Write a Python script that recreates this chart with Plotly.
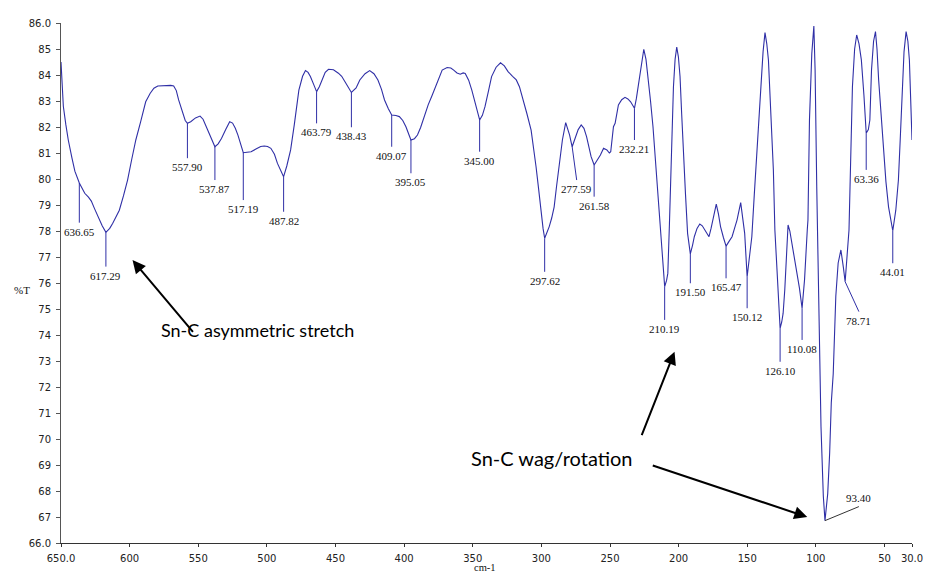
import numpy as np
import plotly.graph_objects as go

# ---------------- data ----------------
wavenumber = [
    650.0, 649.0, 648.3, 646.5, 644.7, 642.0, 639.9, 636.65, 634.5, 632.7, 630.0, 627.9, 625.5, 623.1,
    620.0, 617.29, 614.5, 612.3, 609.8, 607.5, 604.5, 601.5, 598.5, 595.5, 592.0, 588.3, 585.0, 582.3,
    579.5, 575.0, 570.0, 567.9, 566.0, 564.3, 561.5, 559.5, 557.9, 555.5, 552.0, 548.7, 546.5, 544.5,
    542.7, 540.0, 537.87, 535.5, 533.1, 530.0, 527.1, 525.0, 523.0, 521.1, 519.0, 517.19, 514.5, 511.5,
    508.0, 504.5, 501.9, 499.5, 497.1, 494.5, 492.3, 490.0, 487.82, 485.5, 482.7, 480.0, 476.7, 474.0,
    471.9, 470.0, 468.3, 466.0, 463.79, 461.8, 459.9, 457.5, 455.1, 451.5, 447.9, 445.5, 443.1, 440.5,
    438.43, 435.0, 432.3, 428.5, 425.1, 422.0, 419.1, 416.5, 414.3, 411.5, 409.07, 406.0, 403.5, 401.0,
    398.7, 396.5, 395.05, 392.5, 390.3, 388.0, 385.5, 382.5, 379.5, 376.0, 372.3, 368.7, 366.0, 363.9,
    361.5, 359.1, 357.0, 355.5, 353.0, 350.7, 348.0, 345.0, 343.0, 341.1, 338.5, 336.3, 333.0, 329.8,
    327.0, 324.3, 321.0, 318.3, 316.0, 313.5, 310.5, 307.5, 305.5, 303.9, 302.0, 300.3, 298.8, 297.62,
    295.8, 294.3, 292.5, 290.7, 289.0, 287.1, 284.7, 282.3, 279.5, 277.59, 275.5, 273.2, 271.0, 269.0,
    267.1, 265.5, 263.8, 261.58, 259.5, 257.0, 254.7, 252.3, 250.5, 249.5, 247.5, 246.3, 243.9, 241.5,
    239.1, 237.0, 235.0, 233.5, 232.21, 230.8, 229.5, 227.5, 225.4, 223.8, 222.3, 220.5, 218.7, 216.9,
    215.1, 213.5, 212.0, 210.19, 208.8, 207.9, 206.7, 205.5, 204.6, 203.8, 202.6, 201.4, 200.2, 199.0,
    197.8, 196.6, 195.0, 193.5, 191.5, 189.9, 188.6, 186.6, 184.6, 182.8, 181.0, 177.9, 176.4, 175.0,
    172.6, 171.0, 169.5, 167.4, 165.47, 163.3, 161.1, 159.3, 157.5, 154.8, 153.4, 151.9, 150.12, 148.2,
    146.7, 144.9, 143.1, 141.5, 140.0, 138.5, 137.1, 135.8, 134.6, 132.8, 131.0, 129.9, 127.9, 127.2,
    126.1, 124.9, 123.9, 122.7, 121.5, 120.3, 119.0, 117.9, 116.0, 114.3, 112.0, 110.08, 108.3, 106.3,
    105.8, 104.7, 103.0, 101.5, 100.6, 99.4, 98.2, 97.5, 96.8, 96.3, 95.5, 94.6, 93.4, 91.4,
    90.0, 88.8, 87.4, 85.5, 83.8, 81.8, 80.0, 78.71, 75.9, 74.5, 73.4, 71.8, 70.3, 68.6,
    66.9, 65.0, 63.36, 61.8, 60.7, 59.5, 58.0, 56.6, 55.5, 54.3, 52.5, 50.7, 49.0, 47.1,
    45.3, 44.01, 41.8, 39.9, 38.6, 37.4, 35.8, 34.3, 33.0, 31.9, 30.8, 30.0,
]
transmittance = [
    84.5, 83.5, 82.8, 82.1, 81.5, 80.8, 80.3, 79.85, 79.6, 79.45, 79.3, 79.15, 78.85, 78.55,
    78.2, 77.95, 78.1, 78.3, 78.55, 78.8, 79.35, 79.96, 80.75, 81.5, 82.2, 82.97, 83.3, 83.49,
    83.58, 83.6, 83.6, 83.58, 83.4, 83.04, 82.6, 82.25, 82.14, 82.2, 82.35, 82.42, 82.3, 82.05,
    81.82, 81.5, 81.24, 81.35, 81.56, 81.9, 82.2, 82.15, 81.95, 81.69, 81.35, 81.01, 81.03, 81.05,
    81.15, 81.25, 81.27, 81.25, 81.18, 80.95, 80.6, 80.3, 80.09, 80.5, 81.12, 82.1, 83.42, 83.95,
    84.17, 84.1, 83.94, 83.65, 83.36, 83.55, 83.81, 84.1, 84.22, 84.2, 84.07, 83.95, 83.74, 83.5,
    83.33, 83.5, 83.81, 84.05, 84.17, 84.05, 83.81, 83.45, 83.04, 82.7, 82.46, 82.44, 82.4, 82.25,
    82.01, 81.7, 81.5, 81.55, 81.69, 81.98, 82.4, 82.85, 83.23, 83.7, 84.19, 84.29, 84.27, 84.19,
    84.08, 84.03, 84.08, 84.06, 83.8, 83.42, 82.85, 82.27, 82.45, 82.78, 83.4, 83.94, 84.3, 84.47,
    84.35, 84.13, 83.95, 83.81, 83.55, 83.1, 82.5, 81.88, 81.2, 80.47, 79.6, 78.68, 78.1, 77.72,
    77.95, 78.17, 78.5, 78.93, 79.7, 80.6, 81.5, 82.17, 81.7, 81.24, 81.55, 81.9, 82.08, 81.95,
    81.63, 81.2, 80.86, 80.54, 80.7, 80.92, 81.18, 81.12, 81.0, 81.05, 82.01, 82.14, 82.85, 83.05,
    83.14, 83.08, 82.97, 82.85, 82.72, 83.1, 83.55, 84.4, 84.99, 84.6, 83.94, 83.0, 82.01, 80.7,
    79.45, 78.1, 76.88, 75.86, 76.1, 76.37, 78.3, 80.35, 82.0, 83.55, 84.6, 85.07, 84.7, 83.94,
    82.5, 80.99, 79.4, 77.91, 77.12, 77.45, 77.78, 78.1, 78.27, 78.2, 78.04, 77.78, 78.1, 78.42,
    79.03, 78.65, 78.17, 77.75, 77.42, 77.6, 77.78, 78.1, 78.42, 79.09, 78.6, 77.91, 76.24, 77.0,
    77.78, 79.4, 80.99, 82.5, 83.81, 84.9, 85.63, 85.2, 84.58, 82.5, 80.35, 78.04, 76.12, 75.3,
    74.26, 74.5, 74.83, 75.73, 76.9, 78.23, 78.0, 77.65, 77.1, 76.5, 75.8, 75.03, 76.12, 78.04,
    78.42, 82.27, 84.83, 85.88, 84.19, 79.7, 75.86, 73.5, 72.5, 70.47, 69.2, 67.8, 66.86, 67.9,
    69.45, 71.4, 72.5, 75.5, 76.77, 77.27, 76.6, 76.05, 78.04, 81.5, 83.55, 85.0, 85.54, 85.2,
    84.58, 83.2, 81.76, 81.9, 82.27, 84.19, 85.3, 85.67, 85.0, 83.81, 82.5, 80.99, 79.9, 78.93,
    78.3, 78.01, 78.8, 79.96, 81.5, 82.91, 84.9, 85.67, 85.3, 84.58, 83.0, 81.5,
]

peak_labels = ["636.65", "617.29", "557.90", "537.87", "517.19", "487.82", "463.79", "438.43",
               "409.07", "395.05", "345.00", "297.62", "277.59", "261.58", "232.21", "210.19",
               "191.50", "165.47", "150.12", "126.10", "110.08", "93.40", "78.71", "63.36", "44.01"]
peak_wn = [float(s) for s in peak_labels]

x_ticks = [650, 600, 550, 500, 450, 400, 350, 300, 250, 200, 150, 100, 50, 30]
x_ticktext = ["650.0", "600", "550", "500", "450", "400", "350", "300", "250", "200", "150", "100", "50", "30.0"]
y_ticks = list(range(66, 87))
y_ticktext = ["66.0"] + [str(v) for v in range(67, 86)] + ["86.0"]

# ---------------- layout helpers (label leader lines) ----------------
leader_end_wn = [636.65, 617.29, 557.90, 537.87, 517.19, 487.82, 463.79, 438.43,
                 409.07, 395.05, 345.00, 297.62, 274.3, 261.58, 232.21, 210.19,
                 191.50, 165.47, 150.12, 126.10, 110.08, 68.7, 68.7, 63.36, 44.01]
leader_end_T = [78.32, 76.63, 80.80, 79.96, 79.19, 78.74, 82.14, 81.99,
                81.24, 80.22, 81.05, 76.43, 79.96, 79.32, 81.5, 74.58,
                75.99, 76.18, 75.03, 72.97, 73.81, 67.40, 74.9, 80.35, 76.76]
label_above = [False] * 25
label_above[21] = True

wn_arr = np.array(wavenumber)
t_arr = np.array(transmittance)
order = np.argsort(wn_arr)
peak_T = np.interp(peak_wn, wn_arr[order], t_arr[order])

BLUE = "#2f2fa6"
fig = go.Figure()

fig.add_trace(go.Scatter(x=wavenumber, y=transmittance, mode="lines",
                         line=dict(color=BLUE, width=1.1), hoverinfo="skip", showlegend=False))

lx, ly, gx, gy = [], [], [], []
for i, w in enumerate(peak_wn):
    if label_above[i]:
        gx += [w, leader_end_wn[i], None]
        gy += [peak_T[i], leader_end_T[i], None]
    else:
        lx += [w, leader_end_wn[i], None]
        ly += [peak_T[i], leader_end_T[i], None]
fig.add_trace(go.Scatter(x=lx, y=ly, mode="lines", line=dict(color=BLUE, width=1),
                         hoverinfo="skip", showlegend=False))
fig.add_trace(go.Scatter(x=gx, y=gy, mode="lines", line=dict(color="#333333", width=1),
                         hoverinfo="skip", showlegend=False))

annotations = []
for i, lab in enumerate(peak_labels):
    annotations.append(dict(
        x=leader_end_wn[i], y=leader_end_T[i], xref="x", yref="y", text=lab, showarrow=False,
        xanchor="center", yanchor="bottom" if label_above[i] else "top",
        yshift=1 if label_above[i] else -1,
        font=dict(family="Liberation Serif", size=11, color="#111111")))

# axis titles
annotations.append(dict(x=-0.0453, y=0.4865, xref="paper", yref="paper", text="%T", showarrow=False,
                        xanchor="center", yanchor="middle",
                        font=dict(family="Liberation Serif", size=11, color="#111111")))
annotations.append(dict(x=0.498, y=-0.0596, xref="paper", yref="paper", text="cm-1", showarrow=False,
                        xanchor="center", yanchor="bottom", borderpad=0,
                        font=dict(family="Liberation Serif", size=10.5, color="#111111")))

# callout texts
annotations.append(dict(x=0.2311, y=0.4096, xref="paper", yref="paper", text="Sn-C asymmetric stretch",
                        showarrow=False, xanchor="center", yanchor="middle",
                        font=dict(family="Lato", size=18, color="#000000")))
annotations.append(dict(x=0.5772, y=0.1635, xref="paper", yref="paper", text="Sn-C wag/rotation",
                        showarrow=False, xanchor="center", yanchor="middle",
                        font=dict(family="Lato", size=20, color="#000000")))

# callout arrows (head in data coords, tail offset in pixels)
for hx, hy, ax, ay in [(597.9, 76.88, 61.7, 73.3), (203.0, 73.36, -33.4, 85.0), (106.3, 67.0, -156.0, -52.0)]:
    annotations.append(dict(x=hx, y=hy, xref="x", yref="y", ax=ax, ay=ay, text="", showarrow=True,
                            arrowhead=2, arrowsize=1.3, arrowwidth=2, arrowcolor="#000000", standoff=0))

fig.update_layout(
    width=935, height=576,
    margin=dict(l=61, r=13, t=23, b=33),
    paper_bgcolor="white", plot_bgcolor="white",
    annotations=annotations,
    xaxis=dict(range=[650, 30], showgrid=False, zeroline=False, showline=True, linecolor="#333333",
               linewidth=1, ticks="outside", ticklen=3, tickcolor="#333333",
               tickvals=x_ticks, ticktext=x_ticktext, ticklabelstandoff=3,
               tickfont=dict(family="DejaVu Sans", size=10, color="#222222")),
    yaxis=dict(range=[66, 86], showgrid=False, zeroline=False, showline=True, linecolor="#555555",
               linewidth=1, ticks="outside", ticklen=4, tickcolor="#555555",
               tickvals=y_ticks, ticktext=y_ticktext, ticklabelstandoff=3,
               tickfont=dict(family="DejaVu Sans", size=10, color="#222222")),
)

fig.write_html("out.html")
